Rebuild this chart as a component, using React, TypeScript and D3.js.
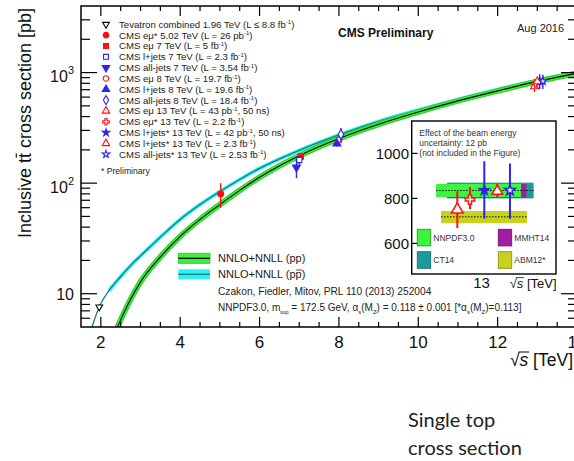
import React from 'react';
import * as d3 from 'd3';

const W = 574;
const H = 461;

// Theory curves
const ppEnergy = [2.3, 2.5, 2.75, 3, 3.5, 4, 4.5, 5, 5.5, 6, 7, 8, 9, 10, 11, 12, 13, 14];
const ppSigma = [4.0, 5.8, 8.9, 12.8, 21.5, 33, 47, 64, 86, 113, 177, 253, 341, 440, 555, 683, 832, 984];
const ppbarEnergy = [1.7, 1.8, 1.96, 2.2, 2.5, 2.8, 3, 3.5, 4, 4.5, 5, 5.5, 6, 7, 8, 9, 10, 11, 12, 13, 14];
const ppbarSigma = [4.0, 5.3, 7.6, 10.6, 14.3, 18.8, 22, 32.5, 47, 64, 84, 108, 136, 198, 273, 362, 458, 572, 700, 849, 999];

// Measurements
const measLabel = [
  'Tevatron combined 1.96 TeV (L \u2264 8.8 fb^{-1})',
  'CMS e\u03bc* 5.02 TeV (L = 26 pb^{-1})',
  'CMS e\u03bc 7 TeV (L = 5 fb^{-1})',
  'CMS l+jets 7 TeV (L = 2.3 fb^{-1})',
  'CMS all-jets 7 TeV (L = 3.54 fb^{-1})',
  'CMS e\u03bc 8 TeV (L = 19.7 fb^{-1})',
  'CMS l+jets 8 TeV (L = 19.6 fb^{-1})',
  'CMS all-jets 8 TeV (L = 18.4 fb^{-1})',
  'CMS e\u03bc 13 TeV (L = 43 pb^{-1}, 50 ns)',
  'CMS e\u03bc* 13 TeV (L = 2.2 fb^{-1})',
  'CMS l+jets* 13 TeV (L = 42 pb^{-1}, 50 ns)',
  'CMS l+jets* 13 TeV (L = 2.3 fb^{-1})',
  'CMS all-jets* 13 TeV (L = 2.53 fb^{-1})',
];
const measEnergy = [1.96, 5.02, 7, 7, 7, 8, 8, 8, 13, 13, 13, 13, 13];
const measSigma = [7.6, 80, 174, 162, 139, 245, 228, 276, 750, 795, 836, 832, 836];
const measLow = [7.2, 60, 166, 148, 111, 236, 215, 236, 668, 753, 710, 805, 710];
const measHigh = [8.0, 100, 182, 176, 167, 254, 241, 316, 832, 850, 965, 866, 955];
const measShape = ['triangleDown', 'circle', 'square', 'square', 'triangleDown', 'circle', 'triangle', 'diamond', 'triangle', 'cross', 'star', 'triangle', 'star'];
const measFilled = [false, true, true, false, true, false, true, false, false, false, true, false, false];
const measColor = ['#000000', '#ff1010', '#ff1010', '#3322ee', '#3322ee', '#ff1010', '#3322ee', '#3322ee', '#ff1010', '#ff1010', '#3322ee', '#ff1010', '#3322ee'];
// small horizontal display shifts (TeV) to separate overlapping points
const measShift = [0, 0, 0.04, 0, -0.07, 0, -0.05, 0.05, -0.07, -0.04, 0.06, 0, 0.14];

// Inset (13 TeV zoom)
const insetPoints = [8, 9, 10, 11, 12];
const insetSlot = [3.16, 4.04, 5.03, 5.93, 6.81];
const insetBandName = ['CT14', 'MMHT14', 'NNPDF3.0', 'ABM12*'];
const insetBandLow = [800, 803, 806, 690];
const insetBandHigh = [870, 864, 864, 744];
const insetBandFrom = [2.45, 2.45, 1.69, 2.03];
const insetBandTo = [8.45, 7.95, 7.58, 7.99];
const insetBandColor = ['#1d9a9a', '#a01ea0', '#3cf53c', '#c8d21e'];
const insetBandEdge = ['#117070', '#701070', '#1fa01f', '#8f9610'];
const insetCentral = [835, 718];
const insetCentralFrom = [1.69, 2.03];
const insetCentralTo = [8.45, 7.99];
const insetTicks = [600, 800, 1000];

const xTickLabels = [2, 4, 6, 8, 10, 12, 14];

const FONT = 'Liberation Sans, Arial, Helvetica, sans-serif';

let _ctx: CanvasRenderingContext2D | null = null;
function textWidth(s: string, fs: number, italic = false): number {
  if (!_ctx) {
    const c = document.createElement('canvas');
    _ctx = c.getContext('2d');
  }
  if (!_ctx) return s.length * fs * 0.5;
  _ctx.font = `${italic ? 'italic ' : ''}${fs}px "Liberation Sans", Arial, sans-serif`;
  return _ctx.measureText(s).width;
}

const symbolMap: Record<string, any> = {
  circle: d3.symbolCircle,
  square: d3.symbolSquare,
  triangle: d3.symbolTriangle,
  triangleDown: d3.symbolTriangle,
  diamond: d3.symbolDiamond,
  cross: d3.symbolCross,
  star: d3.symbolStar,
};

function Marker({ cx, cy, i, size, sw }: { cx: number; cy: number; i: number; size: number; sw: number }) {
  const shape = measShape[i];
  const sz = shape === 'star' ? size * 0.72 : size;
  const path = d3.symbol(symbolMap[shape], sz)() as string;
  const rot = shape === 'triangleDown' ? ' rotate(180)' : '';
  const filled = measFilled[i];
  return (
    <path
      d={path}
      transform={`translate(${cx},${cy})${rot}`}
      fill={filled ? measColor[i] : '#ffffff'}
      stroke={measColor[i]}
      strokeWidth={sw}
    />
  );
}

function RichLabel({ s, fs }: { s: string; fs: number }) {
  const parts = s.split('^{-1}');
  const out: any[] = [];
  parts.forEach((p, k) => {
    out.push(
      <tspan key={'t' + k} dy={k > 0 ? fs * 0.35 : 0}>
        {p}
      </tspan>
    );
    if (k < parts.length - 1)
      out.push(
        <tspan key={'s' + k} fontSize={fs * 0.62} dy={-fs * 0.35}>
          -1
        </tspan>
      );
  });
  return <>{out}</>;
}

function SqrtS({ x0, y0, fs, anchorEnd = false }: { x0: number; y0: number; fs: number; anchorEnd?: boolean }) {
  const wRoot = textWidth('\u221a', fs);
  const wS = textWidth('s', fs, true);
  const wRest = textWidth(' [TeV]', fs);
  const start = anchorEnd ? x0 - (wRoot + wS + wRest) : x0;
  return (
    <g>
      <text x={start} y={y0} fontSize={fs} fill="#111">
        {'\u221a'}
        <tspan fontStyle="italic">s</tspan>
        {' [TeV]'}
      </text>
      <line
        x1={start + wRoot - 0.8}
        x2={start + wRoot + wS + 0.8}
        y1={y0 - fs * 0.8}
        y2={y0 - fs * 0.8}
        stroke="#111"
        strokeWidth={fs * 0.06}
      />
    </g>
  );
}

export default function App() {
  const x = d3.scaleLinear().domain([1.5, 14]).range([81, 577]);
  const y = d3.scaleLog().domain([5, 4000]).range([327, 6]);
  const left = 81, right = 577, top = 6, bottom = 327;

  const mkLine = (E: number[], S: number[]) =>
    d3
      .line<number>()
      .x((d) => x(d))
      .y((_d, k) => y(S[k]))
      .curve(d3.curveMonotoneX)(E) as string;

  const ppPath = mkLine(ppEnergy, ppSigma);
  const ppbarPath = mkLine(ppbarEnergy, ppbarSigma);
  const ppbarBandIdx = ppbarEnergy.map((e, k) => k).filter((k) => ppbarEnergy[k] >= 2.2);
  const ppbarBandPath = mkLine(
    ppbarBandIdx.map((k) => ppbarEnergy[k]),
    ppbarBandIdx.map((k) => ppbarSigma[k])
  );

  // ticks
  const xTicks = d3.range(1.5, 14.001, 0.5).filter((v) => v > 1.5 && v < 14);
  const yTicks: number[] = [];
  [1, 10, 100, 1000].forEach((dec) => {
    for (let m = 1; m <= 9; m++) {
      const v = m * dec;
      if (v > 5.01 && v < 3999) yTicks.push(v);
    }
  });
  const isMajorY = (v: number) => Math.abs(Math.log10(v) - Math.round(Math.log10(v))) < 1e-9;

  const ix = d3.scaleLinear().domain([0, 10]).range([411.7, 556]);
  const iy = d3.scaleLinear().domain([464, 1144]).range([274, 121]);

  const legX = 106, legTextX = 119, legY0 = 24.3, legStep = 10.83;

  // y title overline geometry
  const yTitleFs = 18;
  const yTitleFull = 'Inclusive tt cross section [pb]';
  const yTitleW = textWidth(yTitleFull, yTitleFs);
  const yTitlePre = textWidth('Inclusive t', yTitleFs);
  const tW = textWidth('t', yTitleFs);

  // pbar overline geometry
  const pbarPre = textWidth('NNLO+NNLL (p', 11);
  const pW = textWidth('p', 11);

  return (
    <svg
      width={W}
      height={H}
      style={{ position: 'absolute', left: 0, top: 0, background: '#fff' }}
      fontFamily={FONT}
    >
      <rect x={0} y={0} width={W} height={H} fill="#ffffff" />
      <defs>
        <clipPath id="plotclip">
          <rect x={left} y={top} width={right - left} height={bottom - top} />
        </clipPath>
      </defs>

      {/* theory curves */}
      <g clipPath="url(#plotclip)" fill="none">
        <path d={ppbarBandPath} stroke="#2ef2f2" strokeWidth={3.6} />
        <path d={ppbarPath} stroke="#167d8a" strokeWidth={1.3} />
        <path d={ppPath} stroke="#22c822" strokeWidth={5.6} />
        <path d={ppPath} stroke="#3cf03c" strokeWidth={3.8} />
        <path d={ppPath} stroke="#000000" strokeWidth={1.1} />
      </g>

      {/* measurements in main plot */}
      <g>
        {measEnergy.map((e, i) => {
          const cx = x(e + measShift[i]);
          return (
            <g key={'m' + i}>
              <line x1={cx} x2={cx} y1={y(measLow[i])} y2={y(measHigh[i])} stroke={measColor[i]} strokeWidth={1.4} />
              <Marker cx={cx} cy={y(measSigma[i])} i={i} size={i === 0 ? 20 : 28} sw={1.1} />
            </g>
          );
        })}
      </g>

      {/* frame */}
      <rect x={left} y={top} width={right - left} height={bottom - top} fill="none" stroke="#000" strokeWidth={1.5} />
      {xTicks.map((v) => {
        const major = Math.abs(v % 2) < 1e-9;
        const L = major ? 10 : 5;
        return (
          <g key={'xt' + v}>
            <line x1={x(v)} x2={x(v)} y1={bottom} y2={bottom - L} stroke="#000" strokeWidth={1.2} />
            <line x1={x(v)} x2={x(v)} y1={top} y2={top + L} stroke="#000" strokeWidth={1.2} />
          </g>
        );
      })}
      {yTicks.map((v) => {
        const major = isMajorY(v);
        const L = major ? 16 : 9;
        return (
          <g key={'yt' + v}>
            <line x1={left} x2={left + L} y1={y(v)} y2={y(v)} stroke="#000" strokeWidth={1.2} />
            <line x1={right} x2={right - L} y1={y(v)} y2={y(v)} stroke="#000" strokeWidth={1.2} />
          </g>
        );
      })}

      {/* x tick labels */}
      {xTickLabels.map((v) => (
        <text key={'xl' + v} x={x(v)} y={348} fontSize={17} textAnchor="middle" fill="#111">
          {v}
        </text>
      ))}
      {/* y tick labels */}
      <text x={74} y={y(10) + 6.5} fontSize={16} textAnchor="end" fill="#111">10</text>
      <text x={74} y={y(100) + 9.5} fontSize={16} textAnchor="end" fill="#111">
        10<tspan fontSize={11} dy={-8}>2</tspan>
      </text>
      <text x={74} y={y(1000) + 9.5} fontSize={16} textAnchor="end" fill="#111">
        10<tspan fontSize={11} dy={-8}>3</tspan>
      </text>

      {/* axis titles */}
      <SqrtS x0={573} y0={366} fs={17.5} anchorEnd />
      <g transform="translate(30.5,123) rotate(-90)">
        <text x={0} y={0} fontSize={yTitleFs} textAnchor="middle" fill="#111">
          {yTitleFull}
        </text>
        <line
          x1={-yTitleW / 2 + yTitlePre + 0.3}
          x2={-yTitleW / 2 + yTitlePre + tW - 0.3}
          y1={-14.2}
          y2={-14.2}
          stroke="#111"
          strokeWidth={1.1}
        />
      </g>

      {/* headers */}
      <text x={338} y={36.5} fontSize={12} fontWeight="bold" fill="#111">CMS Preliminary</text>
      <text x={517} y={32} fontSize={11} fill="#222">Aug 2016</text>

      {/* measurement legend */}
      {measLabel.map((lab, i) => {
        const cy = legY0 + i * legStep;
        return (
          <g key={'lg' + i}>
            <Marker cx={legX} cy={cy} i={i} size={i === 0 ? 20 : 24} sw={1.1} />
            <text x={legTextX} y={cy + 3.5} fontSize={9.6} fill="#222">
              <RichLabel s={lab} fs={9.6} />
            </text>
          </g>
        );
      })}
      <text x={101} y={174} fontSize={8.6} fill="#222">* Preliminary</text>

      {/* theory legend */}
      <rect x={178.3} y={253.3} width={31.7} height={10} fill="#3cf03c" stroke="#22c822" strokeWidth={0.8} />
      <line x1={178.3} x2={210} y1={258.3} y2={258.3} stroke="#000" strokeWidth={1.2} />
      <rect x={178.3} y={269.3} width={31.7} height={10} fill="#2ef2f2" />
      <line x1={178.3} x2={210} y1={274.3} y2={274.3} stroke="#167d8a" strokeWidth={1.3} />
      <text x={218} y={262} fontSize={11} fill="#222">NNLO+NNLL (pp)</text>
      <text x={218} y={277.5} fontSize={11} fill="#222">NNLO+NNLL (pp)</text>
      <line x1={218 + pbarPre + 0.3} x2={218 + pbarPre + pW - 0.3} y1={270} y2={270} stroke="#222" strokeWidth={0.8} />
      <text x={218} y={294.8} fontSize={10.2} fill="#222">Czakon, Fiedler, Mitov, PRL 110 (2013) 252004</text>
      <text x={218} y={310.8} fontSize={10} fill="#222">
        {'NNPDF3.0, m'}
        <tspan fontSize={6} dy={3}>top</tspan>
        <tspan dy={-3}>{' = 172.5 GeV, \u03b1'}</tspan>
        <tspan fontSize={6} dy={3}>s</tspan>
        <tspan dy={-3}>{'(M'}</tspan>
        <tspan fontSize={6} dy={3}>Z</tspan>
        <tspan dy={-3}>{') = 0.118 \u00b1 0.001 [*\u03b1'}</tspan>
        <tspan fontSize={6} dy={3}>s</tspan>
        <tspan dy={-3}>{'(M'}</tspan>
        <tspan fontSize={6} dy={3}>Z</tspan>
        <tspan dy={-3}>{')=0.113]'}</tspan>
      </text>

      {/* inset */}
      <g>
        <rect x={411.7} y={121} width={556 - 411.7} height={274 - 121} fill="#ffffff" stroke="#000" strokeWidth={1.4} />
        {insetBandName.map((n, k) => (
          <rect
            key={'ib' + k}
            x={ix(insetBandFrom[k])}
            width={ix(insetBandTo[k]) - ix(insetBandFrom[k])}
            y={iy(insetBandHigh[k])}
            height={iy(insetBandLow[k]) - iy(insetBandHigh[k])}
            fill={insetBandColor[k]}
          />
        ))}
        {insetCentral.map((c, k) => (
          <line
            key={'ic' + k}
            x1={ix(insetCentralFrom[k])}
            x2={ix(insetCentralTo[k])}
            y1={iy(c)}
            y2={iy(c)}
            stroke="#000"
            strokeWidth={1}
            strokeDasharray="1.5,1.5"
          />
        ))}
        {insetPoints.map((i, k) => {
          const cx = ix(insetSlot[k]);
          return (
            <g key={'ip' + k}>
              <line x1={cx} x2={cx} y1={iy(measLow[i])} y2={iy(measHigh[i])} stroke={measColor[i]} strokeWidth={2} />
              <Marker cx={cx} cy={iy(measSigma[i])} i={i} size={k === 0 ? 60 : k === 2 ? 40 : 48} sw={1.5} />
            </g>
          );
        })}
        {insetTicks.map((v) => (
          <g key={'it' + v}>
            <line x1={411.7} x2={417.5} y1={iy(v)} y2={iy(v)} stroke="#000" strokeWidth={1.2} />
            <text x={409} y={iy(v) + 5.5} fontSize={15} textAnchor="end" fill="#111">
              {v}
            </text>
          </g>
        ))}
        <text x={419.3} y={136.3} fontSize={8.5} fill="#333">Effect of the beam energy</text>
        <text x={419.3} y={146.3} fontSize={8.5} fill="#333">uncertainty: 12 pb</text>
        <text x={419.3} y={156.3} fontSize={8.5} fill="#333">(not included in the Figure)</text>

        {/* inset legend */}
        {[2, 1, 0, 3].map((k, pos) => {
          const bx = pos % 2 === 0 ? 417.3 : 498.3;
          const by = pos < 2 ? 229.3 : 251.7;
          return (
            <g key={'il' + k}>
              <rect x={bx} y={by} width={13.4} height={16.6} fill={insetBandColor[k]} stroke={insetBandEdge[k]} strokeWidth={0.9} />
              <text x={bx + 16} y={by + 11.5} fontSize={8.5} fill="#333">
                {insetBandName[k]}
              </text>
            </g>
          );
        })}

        <text x={ix(4.84)} y={288} fontSize={15} textAnchor="middle" fill="#111">13</text>
        <SqrtS x0={556.5} y0={288} fs={13} anchorEnd />
      </g>

      {/* slide annotation */}
      <text x={408} y={427} fontSize={20} fontFamily="Lato, 'Open Sans', sans-serif" fill="#222">Single top</text>
      <text x={408} y={455} fontSize={20} fontFamily="Lato, 'Open Sans', sans-serif" fill="#222">cross section</text>
    </svg>
  );
}
